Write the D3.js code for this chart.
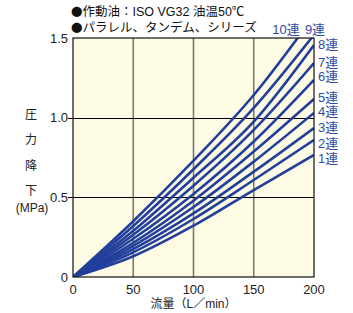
<!DOCTYPE html>
<html><head><meta charset="utf-8">
<script src="https://cdn.jsdelivr.net/npm/d3@7"></script>
<style>
body{margin:0;background:#fff;}
text{font-family:"Liberation Sans","Noto Sans CJK JP",sans-serif;}
.cjk{font-family:"Noto Sans CJK JP",sans-serif;}
</style></head>
<body><svg id="c" width="353" height="313"></svg>
<script>
// flow (L/min)
const flows = [0, 50, 100, 150, 200];
const seriesNames = ["1連","2連","3連","4連","5連","6連","7連","8連","9連","10連"];
const s1  = [0, 0.13, 0.322, 0.546, 0.766];
const s2  = [0, 0.155, 0.364, 0.609, 0.86];
const s3  = [0, 0.175, 0.399, 0.661, 0.935];
const s4  = [0, 0.195, 0.439, 0.724, 1.03];
const s5  = [0, 0.215, 0.479, 0.787, 1.117];
const s6  = [0, 0.24, 0.521, 0.85, 1.237];
const s7  = [0, 0.265, 0.573, 0.923, 1.343];
const s8  = [0, 0.29, 0.623, 0.975, 1.456];
const s9  = [0, 0.32, 0.676, 1.061, 1.52];
const s10 = [0, 0.35, 0.73, 1.142, 1.64];
const seriesValues = [s1,s2,s3,s4,s5,s6,s7,s8,s9,s10];
// value at which each right-hand label sits
const labelLevels = [0.75, 0.84, 0.94, 1.04, 1.13, 1.26, 1.35, 1.46];
const xTicks = [0, 50, 100, 150, 200];
const yTicks = [0, 0.5, 1.0, 1.5];
const yTickLabels = ["0","0.5","1.0","1.5"];
const titleLines = [["●","作動油：ISO VG32 油温50℃"], ["●","パラレル、タンデム、シリーズ"]];
const yTitleChars = ["圧","力","降","下"];
const yUnit = "(MPa)";
const xTitle = "流量（L／min）";

const svg = d3.select("#c");
const L = 73, R = 314, T = 38, B = 277;
const x = d3.scaleLinear().domain([0,200]).range([L,R]);
const y = d3.scaleLinear().domain([0,1.5]).range([B,T]);
const blue = "#233f9c";
const labBlue = "#2f4ba3";

svg.append("rect").attr("x",L).attr("y",T).attr("width",R-L).attr("height",B-T).attr("fill","#fdfbe4");

// vertical grid (gray)
svg.append("g").selectAll("line").data(xTicks.slice(1,-1)).join("line")
  .attr("x1",d=>x(d)).attr("x2",d=>x(d)).attr("y1",T).attr("y2",B)
  .attr("stroke","#7a7a72").attr("stroke-width",1.6);
// horizontal grid (black), extended as ticks
svg.append("g").selectAll("line").data(yTicks.slice(1,-1)).join("line")
  .attr("x1",L-5).attr("x2",R).attr("y1",d=>Math.round(y(d))+0.5).attr("y2",d=>Math.round(y(d))+0.5)
  .attr("stroke","#000").attr("stroke-width",1);

// curves
svg.append("clipPath").attr("id","clip").append("rect").attr("x",L).attr("y",T).attr("width",R-L).attr("height",B-T);
const line = d3.line().x((d,i)=>x(flows[i])).y(d=>y(d)).curve(d3.curveMonotoneX);
svg.append("g").attr("clip-path","url(#clip)").selectAll("path").data(seriesValues).join("path")
  .attr("d",line).attr("fill","none").attr("stroke",blue).attr("stroke-width",2.6);

// border
svg.append("rect").attr("x",L).attr("y",T).attr("width",R-L).attr("height",B-T)
  .attr("fill","none").attr("stroke","#111").attr("stroke-width",1.2);

// axes labels
svg.append("g").selectAll("text").data(yTicks).join("text")
  .attr("x",L-5).attr("y",d=>y(d)+4.5).attr("text-anchor","end").attr("font-size",13).attr("fill","#222")
  .text((d,i)=>yTickLabels[i]);
svg.append("g").selectAll("text").data(xTicks).join("text")
  .attr("x",d=>x(d)).attr("y",B+17).attr("text-anchor","middle").attr("font-size",13).attr("fill","#222")
  .text(d=>d);
svg.append("text").attr("x",x(100)).attr("y",B+31).attr("text-anchor","middle").attr("font-size",12).attr("fill","#222").text(xTitle);

// y title
svg.append("g").selectAll("text").data(yTitleChars).join("text")
  .attr("x",31).attr("y",(d,i)=>119+i*25.3).attr("text-anchor","middle").attr("font-size",12).attr("fill","#222").text(d=>d);
svg.append("text").attr("x",32).attr("y",212).attr("text-anchor","middle").attr("font-size",12).attr("fill","#222").text(yUnit);

// titles
titleLines.forEach((t,i)=>{
  const tx = svg.append("text").attr("x",71).attr("y",16+i*16).attr("font-size",12.5).attr("fill","#111");
  tx.append("tspan").attr("class","cjk").attr("font-size",11.5).text(t[0]);
  tx.append("tspan").text(t[1]);
});

// series labels
const lab = svg.append("g").attr("font-size",13).attr("fill",labBlue);
lab.selectAll("text.r").data(labelLevels).join("text").attr("class","r")
  .attr("x",R+4).attr("y",d=>y(d)+5).text((d,i)=>seriesNames[i]);
lab.append("text").attr("x",286).attr("y",34).attr("text-anchor","middle").text(seriesNames[9]);
lab.append("text").attr("x",315).attr("y",34).attr("text-anchor","middle").text(seriesNames[8]);
</script></body></html>
